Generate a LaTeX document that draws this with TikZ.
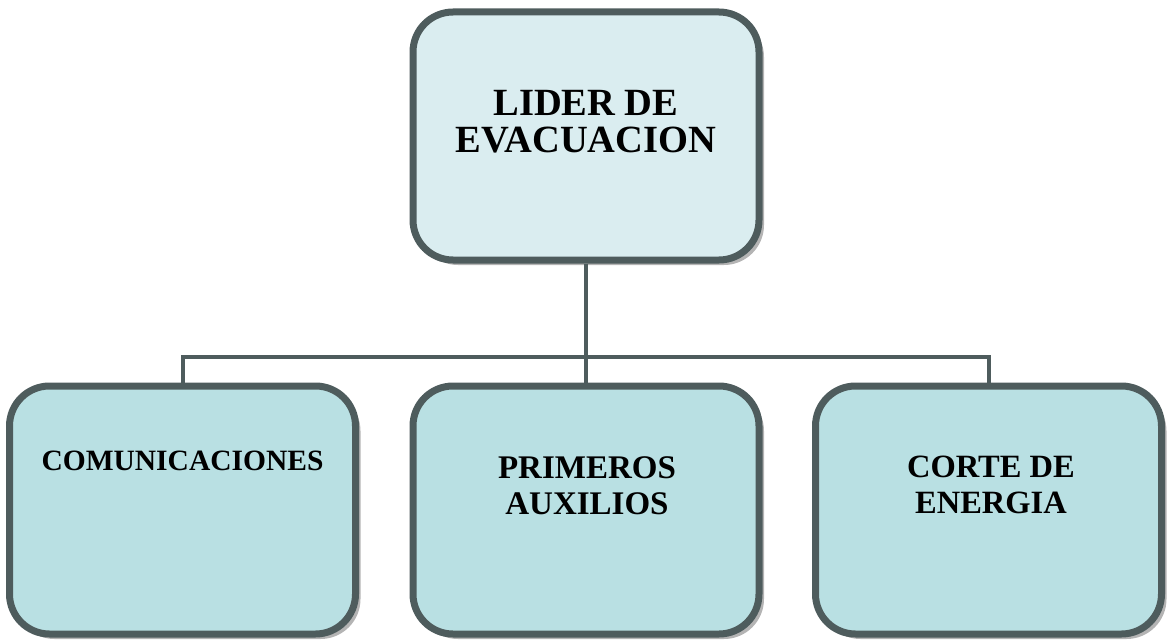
\documentclass[tikz,border=0pt]{standalone}
\usepackage{fontspec}
\setmainfont{Liberation Serif}
\usetikzlibrary{shadows}
\definecolor{edge}{HTML}{4E5C5D}
\definecolor{topfill}{HTML}{DAEDF0}
\definecolor{subfill}{HTML}{B9E0E3}
\definecolor{shade}{HTML}{B4B4B4}
\tikzset{
  box/.style={draw=edge, line width=7pt, rounded corners=40pt,
    minimum width=346pt, minimum height=248pt, inner sep=0pt,
    drop shadow={shadow xshift=5pt, shadow yshift=-5pt, fill=shade, opacity=1}},
  conn/.style={draw=edge, line width=4pt},
  lbl/.style={font=\bfseries, align=center, anchor=base, inner sep=0pt}
}
\begin{document}
\begin{tikzpicture}[x=1pt,y=-1pt]
\useasboundingbox (0,0) rectangle (1167,642);
\node[box, fill=topfill] (top) at (586,136) {};
\node[box, fill=subfill] (c1) at (182.5,510) {};
\node[box, fill=subfill] (c2) at (586,510) {};
\node[box, fill=subfill] (c3) at (988.5,510) {};
\coordinate (bus) at (586,357);
\draw[conn] (top.south) -- (c2.north);
\draw[conn] (c1.north) -- (c1.north |- bus) -- (c3.north |- bus) -- (c3.north);
\node[lbl, font=\bfseries\fontsize{38.5}{37}\selectfont] (t0) at (586,152) {LIDER DE\\EVACUACION};
\node[lbl, font=\bfseries\fontsize{29.5}{34}\selectfont] (t1) at (182.5,470) {COMUNICACIONES};
\node[lbl, font=\bfseries\fontsize{33}{36}\selectfont] (t2) at (587,514) {PRIMEROS\\AUXILIOS};
\node[lbl, font=\bfseries\fontsize{32.5}{36}\selectfont] (t3) at (991,513) {CORTE DE\\ENERGIA};
\end{tikzpicture}
\end{document}
